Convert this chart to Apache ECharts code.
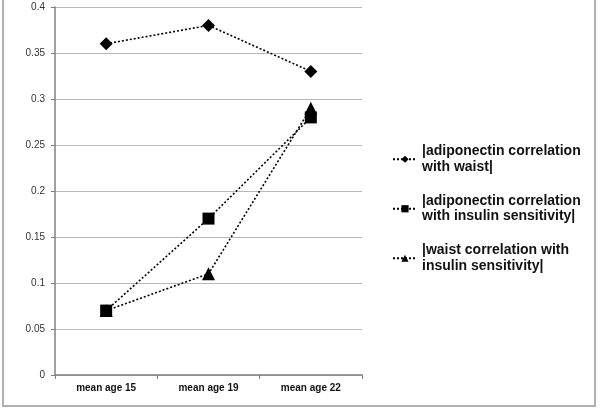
<!DOCTYPE html>
<html>
<head>
<meta charset="utf-8">
<script src="https://cdn.jsdelivr.net/npm/echarts@6/dist/echarts.min.js"></script>
<style>
  html, body { margin: 0; padding: 0; background: #fff; }
  #chart { width: 601px; height: 411px; }
</style>
</head>
<body>
<div id="chart"></div>
<script>
const categories = ["mean age 15", "mean age 19", "mean age 22"];
const seriesNames = [
  "|adiponectin correlation\nwith waist|",
  "|adiponectin correlation\nwith insulin sensitivity|",
  "|waist correlation with\ninsulin sensitivity|"
];
const waistValues = [0.36, 0.38, 0.33];
const insulinValues = [0.07, 0.17, 0.28];
const waistInsulinValues = [0.07, 0.11, 0.29];
const yTicks = [0, 0.05, 0.1, 0.15, 0.2, 0.25, 0.3, 0.35, 0.4];

const chart = echarts.init(document.getElementById("chart"));

function lineSeries(name, data, symbol, size) {
  return {
    name: name,
    type: "line",
    data: data,
    symbol: symbol,
    symbolSize: size,
    itemStyle: { color: "#000" },
    lineStyle: { color: "#000", width: 1.6, type: [2, 2] },
    animation: false
  };
}

chart.setOption({
  animation: false,
  graphic: [{
    type: "rect",
    shape: { x: 3, y: -2, width: 592, height: 408 },
    style: { fill: "none", stroke: "#b0b0b0", lineWidth: 2 }
  }],
  grid: { left: 55, right: 239, top: 7, bottom: 36 },
  legend: {
    orient: "vertical",
    left: 392,
    top: 136,
    padding: 0,
    itemGap: 3,
    itemWidth: 24,
    itemHeight: 9,
    textStyle: {
      fontFamily: "Liberation Sans, Arial, sans-serif",
      fontSize: 14,
      fontWeight: "bold",
      color: "#111",
      lineHeight: 15.5,
      padding: [15.5, 0, 0, 0]
    },
    data: seriesNames
  },
  xAxis: {
    type: "category",
    data: categories,
    boundaryGap: true,
    axisLine: { lineStyle: { color: "#808080", width: 1.5 } },
    axisTick: { show: true, length: 4, lineStyle: { color: "#808080" } },
    axisLabel: {
      margin: 8,
      fontFamily: "Liberation Sans, Arial, sans-serif",
      fontSize: 10,
      fontWeight: "bold",
      color: "#111"
    },
    splitLine: { show: false }
  },
  yAxis: {
    type: "value",
    min: yTicks[0],
    max: yTicks[yTicks.length - 1],
    interval: 0.05,
    axisLine: { show: true, lineStyle: { color: "#808080", width: 1.5 } },
    axisTick: { show: true, length: 4, lineStyle: { color: "#808080" } },
    axisLabel: {
      margin: 10,
      fontFamily: "Liberation Sans, Arial, sans-serif",
      fontSize: 10,
      color: "#333",
      formatter: v => String(parseFloat(v.toFixed(2)))
    },
    splitLine: { show: true, lineStyle: { color: "#b8b8b8", width: 1 } }
  },
  series: [
    lineSeries(seriesNames[0], waistValues, "diamond", 13),
    lineSeries(seriesNames[1], insulinValues, "rect", 12),
    lineSeries(seriesNames[2], waistInsulinValues, "triangle", 13)
  ]
});
</script>
</body>
</html>
